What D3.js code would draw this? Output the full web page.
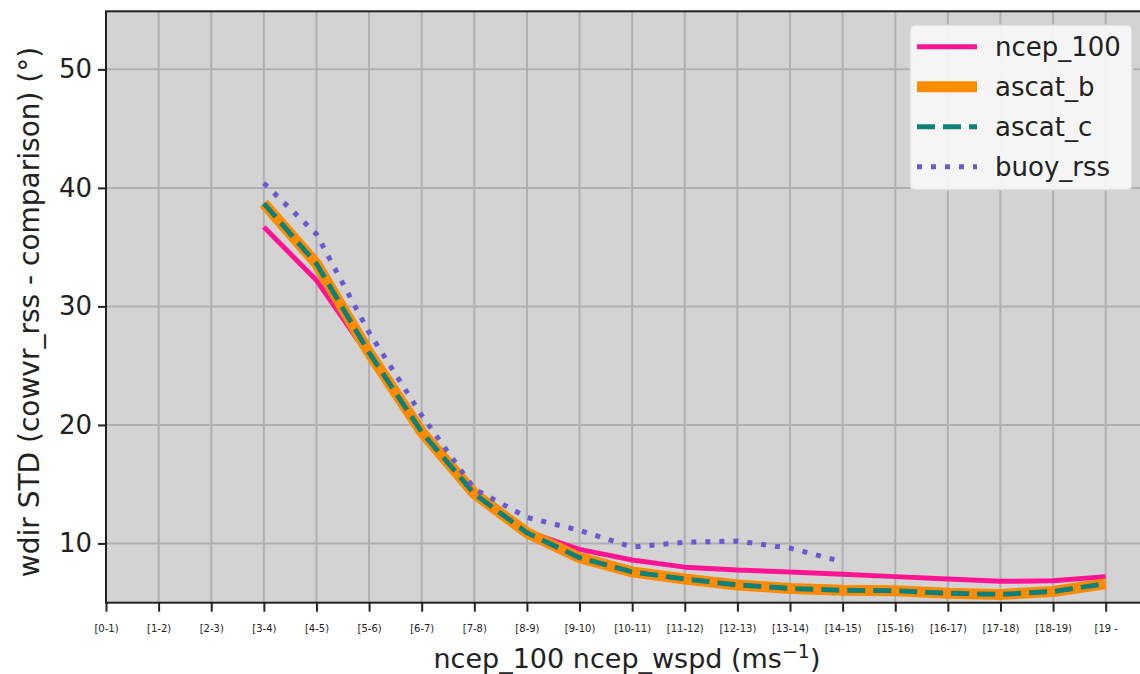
<!DOCTYPE html>
<html>
<head>
<meta charset="utf-8">
<script src="https://cdn.jsdelivr.net/npm/d3@7"></script>
<style>
  html, body { margin: 0; padding: 0; background: #ffffff; }
  svg { display: block; font-family: "DejaVu Sans", sans-serif; overflow: hidden; }
</style>
</head>
<body>
<svg id="chart" width="1140" height="674"></svg>
<script>
// ---- data ----
const binLabels = ["[0-1)","[1-2)","[2-3)","[3-4)","[4-5)","[5-6)","[6-7)","[7-8)","[8-9)","[9-10)",
  "[10-11)","[11-12)","[12-13)","[13-14)","[14-15)","[15-16)","[16-17)","[17-18)","[18-19)","[19 -"];
const yTicks = [10, 20, 30, 40, 50];
const xNcep = [3,4,5,6,7,8,9,10,11,12,13,14,15,16,17,18,19];
const ncep_100 = [36.7,32.2,25.8,19.5,14.2,11.0,9.5,8.6,8.0,7.75,7.6,7.4,7.2,7.0,6.8,6.85,7.2];
const ascat_b  = [38.7,33.6,26.1,19.4,14.2,10.9,8.8,7.6,7.0,6.5,6.2,6.05,6.0,5.8,5.7,5.95,6.6];
const ascat_c  = [38.7,33.6,26.1,19.4,14.2,10.9,8.8,7.6,7.0,6.5,6.2,6.05,6.0,5.8,5.7,5.95,6.6];
const xBuoy = [3,4,5,6,7,8,9,10,11,12,13,14];
const buoy_rss = [40.4,36.1,27.8,20.8,14.6,12.2,11.1,9.7,10.1,10.2,9.6,8.45];

const series = [
  {name: "ncep_100", xs: xNcep, ys: ncep_100, color: "#ff1493", width: 5, dash: null, cap: "butt"},
  {name: "ascat_b",  xs: xNcep, ys: ascat_b,  color: "#ff8c00", width: 11, dash: null, cap: "butt"},
  {name: "ascat_c",  xs: xNcep, ys: ascat_c,  color: "#0e8078", width: 5, dash: "18,8", cap: "butt"},
  {name: "buoy_rss", xs: xBuoy, ys: buoy_rss, color: "#6a5acd", width: 5, dash: "5,9", cap: "butt"}
];

// ---- layout ----
const L = 106, T = 11.3, B = 602.7, unit = 52.616;
const x = d3.scaleLinear().domain([0, 20]).range([L, L + 20 * unit]);
const y = d3.scaleLinear().domain([5, 54.9]).range([B, T]);
const R = 1160;

const svg = d3.select("#chart");

// plot background
svg.append("rect").attr("x", L).attr("y", T).attr("width", R - L).attr("height", B - T)
  .attr("fill", "#d3d3d3");

// grid
const grid = svg.append("g");
grid.selectAll("line.vx").data(d3.range(binLabels.length)).join("line")
  .attr("x1", d => x(d)).attr("x2", d => x(d)).attr("y1", T).attr("y2", B)
  .attr("stroke", "#b0b0b0").attr("stroke-width", 2);
grid.selectAll("line.hy").data(yTicks).join("line")
  .attr("x1", L).attr("x2", R).attr("y1", d => y(d)).attr("y2", d => y(d))
  .attr("stroke", "#b0b0b0").attr("stroke-width", 2);

// lines
const plot = svg.append("g");
series.forEach(s => {
  const pts = s.xs.map((xv, i) => [xv, s.ys[i]]);
  const line = d3.line().x(d => x(d[0])).y(d => y(d[1]));
  plot.append("path").attr("d", line(pts)).attr("fill", "none")
    .attr("stroke", s.color).attr("stroke-width", s.width)
    .attr("stroke-linejoin", "round").attr("stroke-linecap", s.cap)
    .attr("stroke-dasharray", s.dash);
});

// frame
svg.append("rect").attr("x", L).attr("y", T).attr("width", R - L).attr("height", B - T)
  .attr("fill", "none").attr("stroke", "#222").attr("stroke-width", 2);

// axes
const xAxis = d3.axisBottom(x).tickValues(d3.range(binLabels.length))
  .tickFormat(i => binLabels[i]).tickSizeOuter(0).tickSize(9).tickPadding(13);
const gx = svg.append("g").attr("transform", `translate(0,${B})`).call(xAxis);
gx.select(".domain").remove();
gx.selectAll(".tick line").attr("stroke", "#222").attr("stroke-width", 2);
gx.selectAll(".tick text").attr("font-size", "10px").attr("fill", "#222")
  .attr("font-family", "DejaVu Sans");

const yAxis = d3.axisLeft(y).tickValues(yTicks).tickSizeOuter(0).tickSize(8).tickPadding(6);
const gy = svg.append("g").attr("transform", `translate(${L},0)`).call(yAxis);
gy.select(".domain").remove();
gy.selectAll(".tick line").attr("stroke", "#222").attr("stroke-width", 2);
gy.selectAll(".tick text").attr("font-size", "26px").attr("fill", "#222")
  .attr("font-family", "DejaVu Sans");

// axis labels
const xl = svg.append("text").attr("x", 627).attr("y", 668).attr("text-anchor", "middle")
  .attr("font-size", "27px").attr("fill", "#222");
xl.append("tspan").text("ncep_100 ncep_wspd (ms");
xl.append("tspan").attr("dy", -10).attr("font-size", "19px").text("\u22121");
xl.append("tspan").attr("dy", 10).text(")");

svg.append("text").attr("transform", "translate(39,312) rotate(-90)")
  .attr("text-anchor", "middle").attr("font-size", "28px").attr("fill", "#222")
  .text("wdir STD (cowvr_rss - comparison) (\u00b0)");

// legend
const lg = svg.append("g");
lg.append("rect").attr("x", 910).attr("y", 25).attr("width", 222).attr("height", 165)
  .attr("rx", 5).attr("fill", "#f7f7f7").attr("fill-opacity", 0.95)
  .attr("stroke", "#d8d8d8").attr("stroke-width", 1.5);
series.forEach((s, i) => {
  const cy = 46.7 + i * 40;
  lg.append("line").attr("x1", 917).attr("x2", 977).attr("y1", cy).attr("y2", cy)
    .attr("stroke", s.color).attr("stroke-width", s.width)
    .attr("stroke-dasharray", s.dash).attr("stroke-linecap", s.cap);
  lg.append("text").attr("x", 995).attr("y", cy + 9).attr("font-size", "26px")
    .attr("fill", "#222").text(s.name);
});
</script>
</body>
</html>
